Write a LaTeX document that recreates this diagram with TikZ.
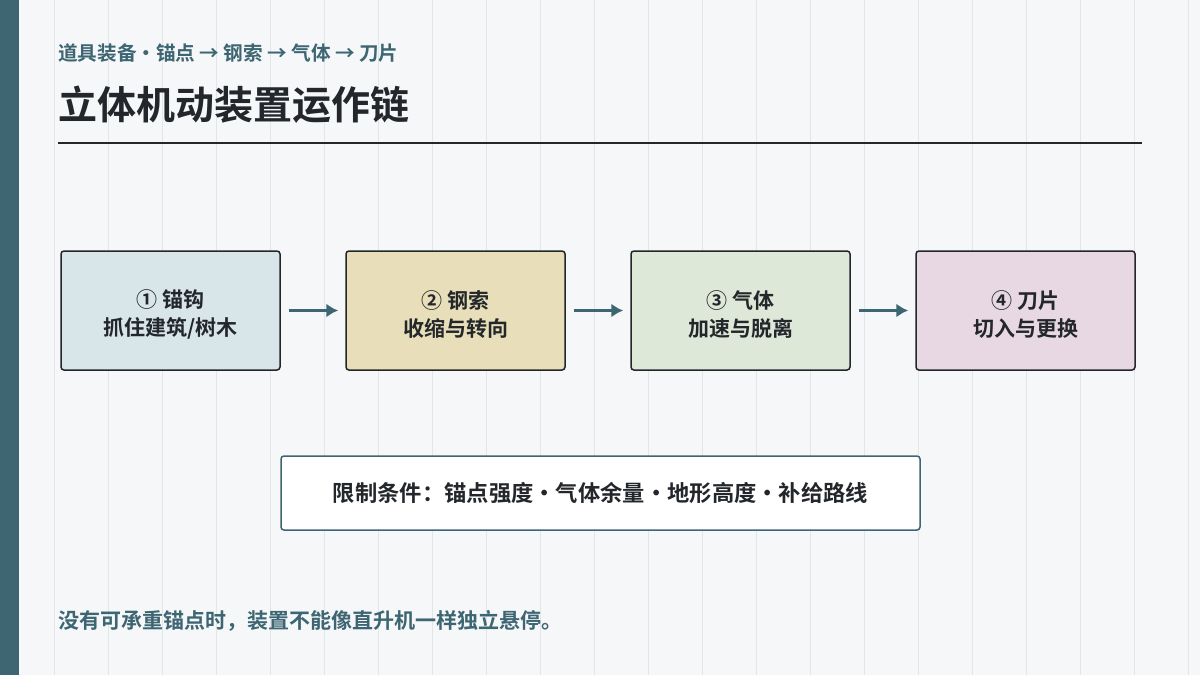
\documentclass[tikz,border=0pt]{standalone}
\usepackage{fontspec}
\setmainfont{Noto Sans CJK SC}
\newfontfamily\cjkb{Noto Sans CJK SC Bold}
\usetikzlibrary{positioning,arrows.meta}
\definecolor{teal}{HTML}{3D6672}
\definecolor{ink}{HTML}{23272B}
\definecolor{paper}{HTML}{F5F7F9}
\definecolor{gridc}{HTML}{E2E6E6}
\definecolor{cA}{HTML}{D8E6EA}
\definecolor{cB}{HTML}{E8DFBA}
\definecolor{cC}{HTML}{DDE8D8}
\definecolor{cD}{HTML}{E8D8E3}
\tikzset{
  stage/.style={draw=ink, line width=1.5pt, rounded corners=3pt, minimum width=219pt,
    minimum height=119pt},
  stagetext/.style={align=center, font=\cjkb\fontsize{21}{28}\selectfont, text=ink},
  flow/.style={draw=teal, line width=3pt, -{Latex[length=12pt,width=14pt]}},
}
\begin{document}
\begin{tikzpicture}[x=1pt,y=-1pt]
  \fill[paper] (0,0) rectangle (1200,675);
  \useasboundingbox (0,0) rectangle (1200,675);
  \foreach \i in {1,...,22}
    \draw[gridc, line width=1pt] (54*\i,0) -- (54*\i,675);
  \fill[teal] (0,0) rectangle (19,675);

  \node[anchor=west, text=teal, font=\cjkb\fontsize{19.6}{22}\selectfont, inner sep=0pt] (sub) at (58,53)
    {道具装备・锚点 → 钢索 → 气体 → 刀片};
  \node[anchor=west, text=ink, font=\cjkb\fontsize{39}{44}\selectfont, inner sep=0pt] (title) at (58,105)
    {立体机动装置运作链};
  \draw[ink, line width=1.5pt] (58,143) -- (1142,143);

  \node[stage, fill=cA] (s1) at (170.5,310.5) {};
  \node[stage, fill=cB] (s2) at (455.5,310.5) {};
  \node[stage, fill=cC] (s3) at (740.5,310.5) {};
  \node[stage, fill=cD] (s4) at (1025.5,310.5) {};
  \node[stagetext] (t1) at ([yshift=-4pt]s1.center) {① 锚钩\\抓住建筑/树木};
  \node[stagetext] (t2) at ([yshift=-4pt]s2.center) {② 钢索\\收缩与转向};
  \node[stagetext] (t3) at ([yshift=-4pt]s3.center) {③ 气体\\加速与脱离};
  \node[stagetext] (t4) at ([yshift=-4pt]s4.center) {④ 刀片\\切入与更换};

  \draw[flow] ([xshift=8pt]s1.east) -- ([xshift=-7pt]s2.west);
  \draw[flow] ([xshift=8pt]s2.east) -- ([xshift=-7pt]s3.west);
  \draw[flow] ([xshift=8pt]s3.east) -- ([xshift=-7pt]s4.west);

  \node[draw=teal, fill=white, line width=1.5pt, rounded corners=3pt, minimum width=639pt,
    minimum height=74pt, text=ink, font=\cjkb\fontsize{22.3}{25}\selectfont] (limit) at (600.5,493)
    {限制条件：锚点强度・气体余量・地形高度・补给路线};

  \node[anchor=west, text=teal, font=\cjkb\fontsize{21}{24}\selectfont, inner sep=0pt] (note) at (58,621)
    {没有可承重锚点时，装置不能像直升机一样独立悬停。};
\end{tikzpicture}
\end{document}
